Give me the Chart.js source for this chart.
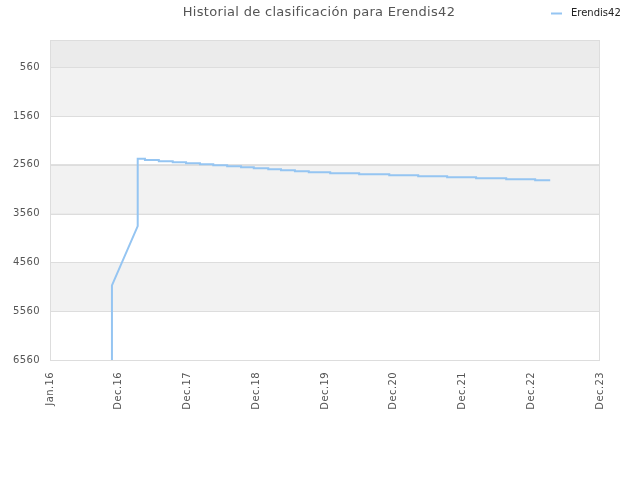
<!DOCTYPE html>
<html>
<head>
<meta charset="utf-8">
<script src="https://cdn.jsdelivr.net/npm/chart.js@4.4.1/dist/chart.umd.min.js"></script>
<style>
  body { margin: 0; background: #fff; }
  #wrap { width: 640px; height: 480px; }
</style>
</head>
<body>
<div id="wrap"><canvas id="rank-chart" width="640" height="480"></canvas></div>
<script>
// Datos (x = meses desde enero 2016, y = posición en la clasificación)
const chartTitle = 'Historial de clasificación para Erendis42';
const seriesName = 'Erendis42';
const xTickLabels = ['Jan.16', 'Dec.16', 'Dec.17', 'Dec.18', 'Dec.19', 'Dec.20', 'Dec.21', 'Dec.22', 'Dec.23'];
const xMax = 95;
const yTicks = [560, 1560, 2560, 3560, 4560, 5560, 6560];

const climbMonth = [10.7, 10.7, 15.15];
const climbRank = [6560, 5030, 3816];

const stepMonth = [15.15, 16.4, 18.8, 21.2, 23.5, 25.9, 28.2, 30.6, 33.0, 35.2, 37.7,
                   39.9, 42.3, 44.7, 48.4, 53.4, 58.6, 63.6, 68.6, 73.6, 78.8, 83.8];
const stepRank = [2434, 2458, 2485, 2506, 2526, 2547, 2567, 2588, 2608, 2629, 2649,
                  2670, 2690, 2711, 2731, 2752, 2772, 2793, 2813, 2833, 2854, 2874];
const lastMonth = 86.4;

// Construir los puntos de la línea
const points = [];
climbMonth.forEach((m, i) => points.push({ x: m, y: climbRank[i] }));
stepMonth.forEach((m, i) => {
    const end = i < stepMonth.length - 1 ? stepMonth[i + 1] : lastMonth;
    points.push({ x: m, y: stepRank[i] });
    points.push({ x: end, y: stepRank[i] });
});

const lineColor = '#95c5f2';

// Espaciado entre letras para los textos de los ejes
const spacingPlugin = {
    id: 'spacing',
    beforeDraw(chart) {
        if ('letterSpacing' in chart.ctx) chart.ctx.letterSpacing = '0.4px';
    },
    afterDraw(chart) {
        if ('letterSpacing' in chart.ctx) chart.ctx.letterSpacing = '0px';
    }
};

// Bandas de fondo y borde del área del gráfico
const bandPlugin = {
    id: 'bands',
    beforeDatasetsDraw(chart) {
        const { ctx, chartArea: a, scales: { y } } = chart;
        const bands = [[0, 560, '#ebebeb'], [560, 1560, '#f2f2f2'], [2560, 3560, '#f2f2f2'], [4560, 5560, '#f2f2f2']];
        ctx.save();
        bands.forEach(([from, to, color]) => {
            const top = y.getPixelForValue(from);
            const bottom = y.getPixelForValue(to);
            ctx.fillStyle = color;
            ctx.fillRect(a.left, top, a.right - a.left, bottom - top);
        });
        // volver a pintar las líneas de la cuadrícula encima de las bandas
        ctx.strokeStyle = '#dddddd';
        ctx.lineWidth = 1;
        yTicks.forEach(v => {
            const py = Math.round(y.getPixelForValue(v)) + 0.5;
            ctx.beginPath();
            ctx.moveTo(a.left, py);
            ctx.lineTo(a.right, py);
            ctx.stroke();
        });
        ctx.strokeRect(Math.round(a.left) + 0.5, Math.round(a.top) + 0.5, Math.round(a.right - a.left) - 1, Math.round(a.bottom - a.top));
        ctx.restore();
    }
};

// Título y leyenda en la misma fila
const headerPlugin = {
    id: 'header',
    afterDraw(chart) {
        const { ctx } = chart;
        ctx.save();
        ctx.textBaseline = 'middle';
        ctx.font = '13px "DejaVu Sans"';
        ctx.fillStyle = '#555555';
        ctx.textAlign = 'center';
        if ('letterSpacing' in ctx) ctx.letterSpacing = '0.3px';
        ctx.fillText(chartTitle, 319, 13);
        if ('letterSpacing' in ctx) ctx.letterSpacing = '0px';

        ctx.strokeStyle = lineColor;
        ctx.lineWidth = 2;
        ctx.beginPath();
        ctx.moveTo(551, 13.5);
        ctx.lineTo(562, 13.5);
        ctx.stroke();
        ctx.font = '10px "DejaVu Sans"';
        ctx.fillStyle = '#222222';
        ctx.textAlign = 'left';
        ctx.fillText(seriesName, 571, 13.5);
        ctx.restore();
    }
};

const ctx = document.getElementById('rank-chart').getContext('2d');
const rankChart = new Chart(ctx, {
    type: 'line',
    data: {
        datasets: [{
            label: seriesName,
            data: points,
            borderColor: lineColor,
            backgroundColor: lineColor,
            borderWidth: 2,
            pointRadius: 0,
            tension: 0,
            fill: false
        }]
    },
    options: {
        responsive: false,
        animation: false,
        layout: { padding: { top: 40, right: 40, left: 0, bottom: 0 } },
        scales: {
            x: {
                type: 'linear',
                min: 0,
                max: xMax,
                afterBuildTicks: scale => {
                    scale.ticks = xTickLabels.map((_, i) => ({ value: i * xMax / (xTickLabels.length - 1) }));
                },
                afterFit: scale => { scale.height = 120; },
                ticks: {
                    autoSkip: false,
                    minRotation: 90,
                    maxRotation: 90,
                    padding: 12,
                    color: '#555555',
                    font: { family: 'DejaVu Sans', size: 10 },
                    callback: (value, index) => xTickLabels[index]
                },
                grid: { display: false, drawTicks: false },
                border: { display: false }
            },
            y: {
                type: 'linear',
                reverse: true,
                min: 0,
                max: 6560,
                afterBuildTicks: scale => {
                    scale.ticks = yTicks.map(v => ({ value: v }));
                },
                afterFit: scale => { scale.width = 50; },
                ticks: {
                    padding: 10,
                    color: '#555555',
                    font: { family: 'DejaVu Sans', size: 10 },
                    callback: value => value
                },
                grid: { color: '#dddddd', drawTicks: false },
                border: { display: false }
            }
        },
        plugins: {
            legend: { display: false },
            title: { display: false },
            tooltip: { enabled: false }
        }
    },
    plugins: [spacingPlugin, bandPlugin, headerPlugin]
});
</script>
</body>
</html>
